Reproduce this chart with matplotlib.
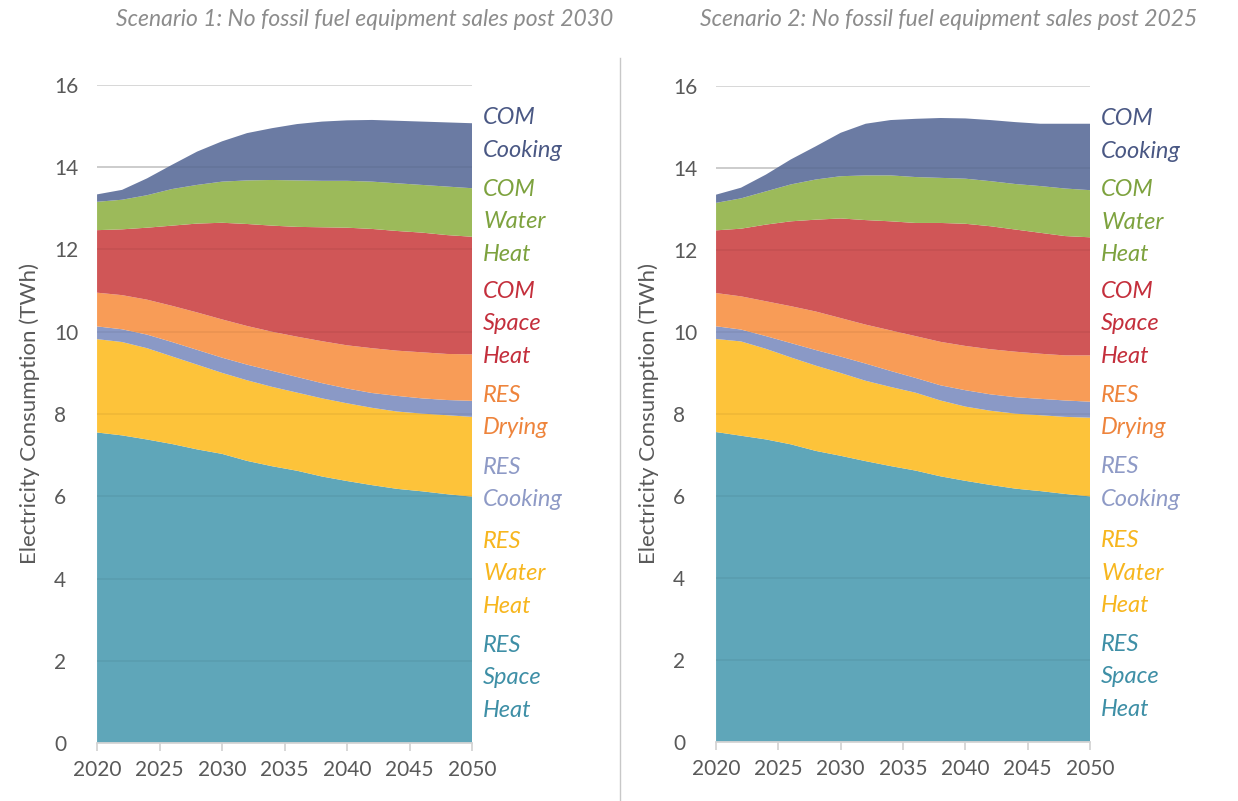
"""Two-panel stacked area chart: electricity consumption by end use, two scenarios."""
import matplotlib
matplotlib.use("Agg")
import matplotlib.pyplot as plt
import numpy as np

plt.rcParams["font.family"] = ["Lato", "DejaVu Sans"]

YEARS = [2020, 2022, 2024, 2026, 2028, 2030, 2032, 2034,
         2036, 2038, 2040, 2042, 2044, 2046, 2048, 2050]

LAYER_NAMES = ["RES Space Heat", "RES Water Heat", "RES Cooking", "RES Drying",
               "COM Space Heat", "COM Water Heat", "COM Cooking"]

# Scenario 1 (TWh per end use, bottom to top)
S1_RES_SPACE = [7.55, 7.48, 7.38, 7.27, 7.14, 7.03, 6.86, 6.73, 6.62, 6.48, 6.37, 6.27, 6.18, 6.12, 6.05, 5.99]
S1_RES_WATER = [2.27, 2.27, 2.22, 2.13, 2.06, 1.97, 1.96, 1.93, 1.90, 1.90, 1.89, 1.88, 1.88, 1.89, 1.92, 1.94]
S1_RES_COOK = [0.31, 0.31, 0.33, 0.35, 0.36, 0.37, 0.38, 0.39, 0.38, 0.37, 0.36, 0.36, 0.38, 0.37, 0.37, 0.39]
S1_RES_DRY = [0.82, 0.83, 0.85, 0.88, 0.91, 0.93, 0.94, 0.95, 0.98, 1.02, 1.05, 1.09, 1.10, 1.12, 1.12, 1.13]
S1_COM_SPACE = [1.52, 1.60, 1.75, 1.95, 2.16, 2.35, 2.48, 2.58, 2.67, 2.77, 2.86, 2.90, 2.91, 2.91, 2.89, 2.86]
S1_COM_WATER = [0.69, 0.72, 0.79, 0.89, 0.94, 1.00, 1.06, 1.11, 1.13, 1.13, 1.14, 1.15, 1.16, 1.16, 1.18, 1.18]
S1_COM_COOK = [0.18, 0.24, 0.41, 0.59, 0.81, 0.98, 1.15, 1.26, 1.37, 1.44, 1.47, 1.50, 1.52, 1.54, 1.56, 1.58]

# Scenario 2
S2_RES_SPACE = [7.56, 7.47, 7.38, 7.26, 7.10, 6.98, 6.85, 6.73, 6.62, 6.48, 6.37, 6.27, 6.18, 6.12, 6.05, 5.99]
S2_RES_WATER = [2.27, 2.30, 2.21, 2.12, 2.08, 2.02, 1.96, 1.93, 1.90, 1.85, 1.81, 1.81, 1.83, 1.85, 1.88, 1.92]
S2_RES_COOK = [0.31, 0.29, 0.31, 0.35, 0.38, 0.40, 0.42, 0.39, 0.36, 0.37, 0.40, 0.40, 0.40, 0.40, 0.40, 0.39]
S2_RES_DRY = [0.81, 0.81, 0.85, 0.90, 0.94, 0.94, 0.95, 0.99, 1.02, 1.06, 1.08, 1.10, 1.11, 1.10, 1.10, 1.13]
S2_COM_SPACE = [1.53, 1.65, 1.87, 2.07, 2.24, 2.43, 2.55, 2.66, 2.76, 2.90, 2.98, 3.00, 2.98, 2.95, 2.91, 2.88]
S2_COM_WATER = [0.67, 0.74, 0.81, 0.90, 0.98, 1.03, 1.09, 1.12, 1.12, 1.10, 1.10, 1.10, 1.11, 1.14, 1.16, 1.15]
S2_COM_COOK = [0.20, 0.26, 0.41, 0.61, 0.81, 1.06, 1.26, 1.35, 1.42, 1.46, 1.47, 1.49, 1.51, 1.52, 1.58, 1.62]

TITLES = ["Scenario 1: No fossil fuel equipment sales post 2030",
          "Scenario 2: No fossil fuel equipment sales post 2025"]
Y_LABEL = "Electricity Consumption (TWh)"
Y_TICKS = [0, 2, 4, 6, 8, 10, 12, 14, 16]
X_TICKS = [2020, 2025, 2030, 2035, 2040, 2045, 2050]

FILL_COLORS = ["#5FA6B9", "#FDC33A", "#8A99C6", "#F89C57", "#D05657", "#9CBA5A", "#6B7BA3"]
TEXT_COLORS = ["#3E8FA6", "#F7B61E", "#8E9AC6", "#EE843C", "#C42F3C", "#7DA23E", "#4A5884"]

# right-hand labels: (lines, y of first line in data units, layer index), top to bottom
LABELS = [
    (["COM", "Cooking"], 15.20, 6),
    (["COM", "Water", "Heat"], 13.47, 5),
    (["COM", "Space", "Heat"], 10.99, 4),
    (["RES", "Drying"], 8.46, 3),
    (["RES", "Cooking"], 6.71, 2),
    (["RES", "Water", "Heat"], 4.91, 1),
    (["RES", "Space", "Heat"], 2.38, 0),
]
LINE_STEP = 0.79

GRID = "#D4D4D4"
TICK_TEXT = "#595959"


def draw_panel(ax, layers):
    ax.stackplot(YEARS, *[np.array(v) for v in layers], colors=FILL_COLORS,
                 linewidth=0, zorder=2)
    ax.set_xlim(2020, 2050)
    ax.set_ylim(0, 16)
    ax.set_yticks(Y_TICKS)
    ax.set_xticks(X_TICKS)
    ax.grid(axis="y", color=GRID, linewidth=1.3, zorder=1)
    ax.set_axisbelow(True)
    # faint gridlines showing through the filled areas
    for t in Y_TICKS[1:-1]:
        ax.axhline(t, color="black", alpha=0.05, linewidth=1.3, zorder=2.5)
    for side in ("top", "right", "left"):
        ax.spines[side].set_visible(False)
    ax.spines["bottom"].set_color(GRID)
    ax.spines["bottom"].set_linewidth(1.3)
    ax.spines["bottom"].set_zorder(3)
    ax.tick_params(axis="y", length=0, pad=31, labelsize=15, labelcolor=TICK_TEXT)
    ax.tick_params(axis="x", length=6, width=1.3, color=GRID, pad=6,
                   labelsize=15, labelcolor=TICK_TEXT)
    for lbl in ax.get_yticklabels():
        lbl.set_horizontalalignment("left")
    ax.set_ylabel(Y_LABEL, fontsize=16, color=TICK_TEXT, labelpad=10)

    for lines, y0, idx in LABELS:
        for i, word in enumerate(lines):
            ax.annotate(word, xy=(1, y0 - i * LINE_STEP),
                        xycoords=("axes fraction", "data"),
                        xytext=(8, 0), textcoords="offset points",
                        va="center", ha="left", fontsize=17, style="italic",
                        color=TEXT_COLORS[idx], annotation_clip=False)


fig = plt.figure(figsize=(12.38, 8.01), dpi=100)
ax1 = fig.add_axes([0.0784, 0.0724, 0.3029, 0.8215])
ax2 = fig.add_axes([0.5784, 0.0737, 0.3021, 0.8189])

draw_panel(ax1, [S1_RES_SPACE, S1_RES_WATER, S1_RES_COOK, S1_RES_DRY,
                 S1_COM_SPACE, S1_COM_WATER, S1_COM_COOK])
draw_panel(ax2, [S2_RES_SPACE, S2_RES_WATER, S2_RES_COOK, S2_RES_DRY,
                 S2_COM_SPACE, S2_COM_WATER, S2_COM_COOK])

for cx, title in zip([365 / 1238, 949 / 1238], TITLES):
    fig.text(cx, 1 - 20 / 801, title, ha="center", va="center", fontsize=16.5,
             style="italic", color="#8C8C8C")

# thin divider between the two panels
fig.add_artist(plt.Line2D([620 / 1238, 620 / 1238], [0, 1 - 58 / 801],
                          transform=fig.transFigure, color="#C8C8C8", linewidth=1))

fig.savefig("out.png", dpi=100)
